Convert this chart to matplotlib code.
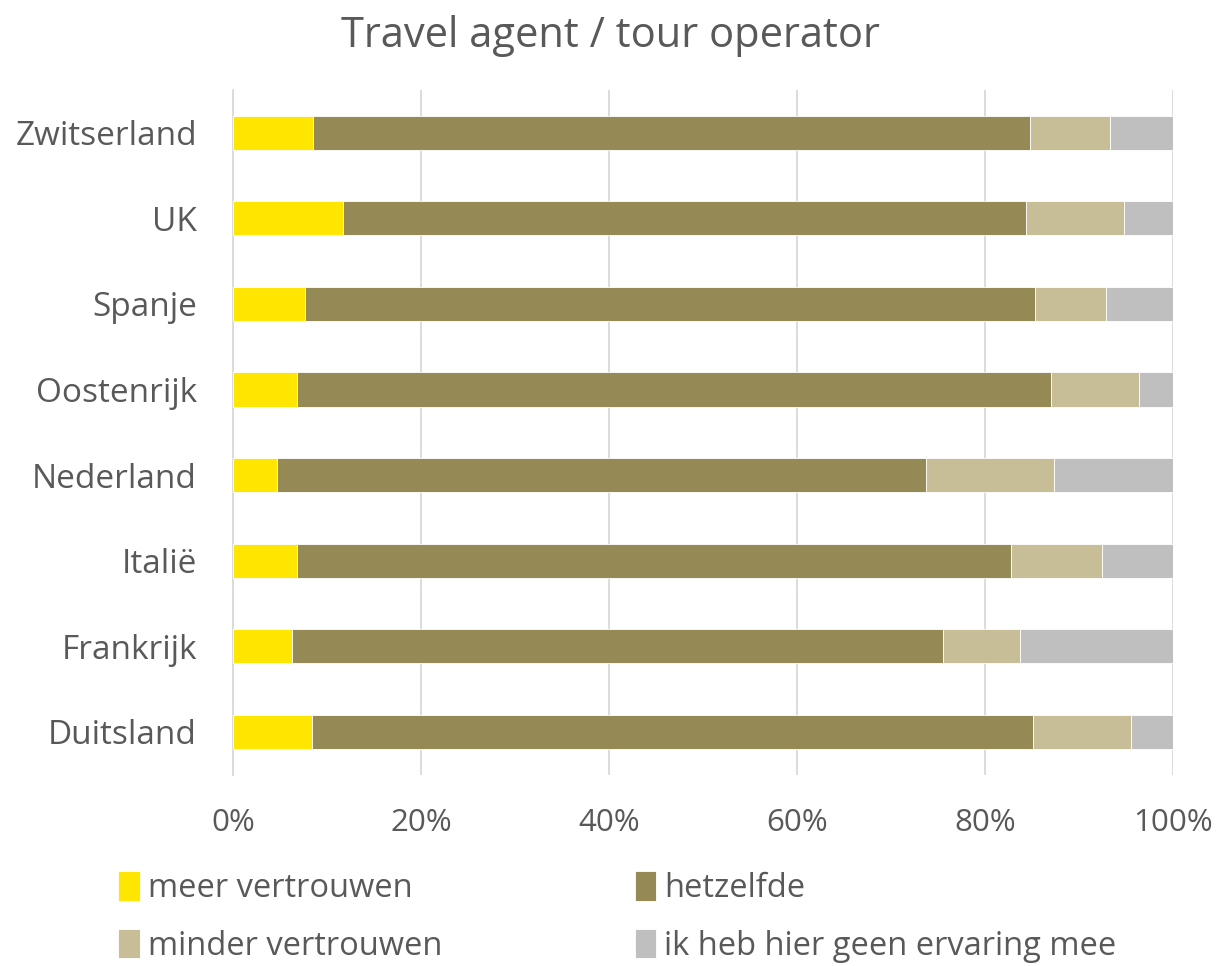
import matplotlib.pyplot as plt
import numpy as np

# Data (% per answer, per country)
countries = ['Duitsland', 'Frankrijk', 'Italië', 'Nederland', 'Oostenrijk', 'Spanje', 'UK', 'Zwitserland']
meer = [8.4, 6.3, 6.8, 4.7, 6.8, 7.7, 11.7, 8.5]
hetzelfde = [76.7, 69.2, 76.0, 69.0, 80.2, 77.6, 72.7, 76.3]
minder = [10.4, 8.2, 9.6, 13.6, 9.4, 7.6, 10.4, 8.5]
geen = [4.5, 16.3, 7.6, 12.7, 3.6, 7.1, 5.2, 6.7]

series = ['meer vertrouwen', 'hetzelfde', 'minder vertrouwen', 'ik heb hier geen ervaring mee']
colors = ['#FFE600', '#958A55', '#C7BE97', '#BFBFBF']

plt.rcParams['font.family'] = ['Open Sans', 'DejaVu Sans']
txt = '#595959'

fig = plt.figure(figsize=(12.2, 9.66), dpi=100)
ax = fig.add_axes([0.191, 0.198, 0.7705, 0.709])

y = np.arange(len(countries))
left = np.zeros(len(countries))
handles = []
for vals, name, col in zip([meer, hetzelfde, minder, geen], series, colors):
    h = ax.barh(y, vals, left=left, height=0.4, color=col, label=name,
                edgecolor='white', linewidth=0.6, zorder=3)
    handles.append(h)
    left += np.array(vals)

ax.set_xlim(0, 100)
ax.set_ylim(-0.5, 7.5)
ax.set_xticks(np.arange(0, 101, 20))
ax.set_xticklabels([f'{v}%' for v in range(0, 101, 20)])
ax.set_yticks(y)
ax.set_yticklabels(countries)
ax.tick_params(axis='both', length=0, colors=txt)
ax.tick_params(axis='x', pad=24, labelsize=22.5)
ax.tick_params(axis='y', pad=26, labelsize=24)
ax.grid(axis='x', color='#D9D9D9', linewidth=1.3, zorder=0)
for s in ['top', 'right', 'bottom']:
    ax.spines[s].set_visible(False)
ax.spines['left'].set_color('#D9D9D9')
ax.spines['left'].set_linewidth(1.3)

fig.text(0.5, 0.963, 'Travel agent / tour operator', ha='center', va='center',
         fontsize=30, color=txt)

# row-wise legend order like the original
order = [0, 2, 1, 3]
leg = fig.legend([handles[i] for i in order], [series[i] for i in order],
                 loc='lower left', bbox_to_anchor=(0.073, -0.027), ncol=2,
                 frameon=False, fontsize=23.5, handlelength=0.65, handleheight=1.0,
                 handletextpad=0.25, columnspacing=5.9, labelspacing=0.73)
for t in leg.get_texts():
    t.set_color(txt)

fig.savefig('out.png', dpi=100)
